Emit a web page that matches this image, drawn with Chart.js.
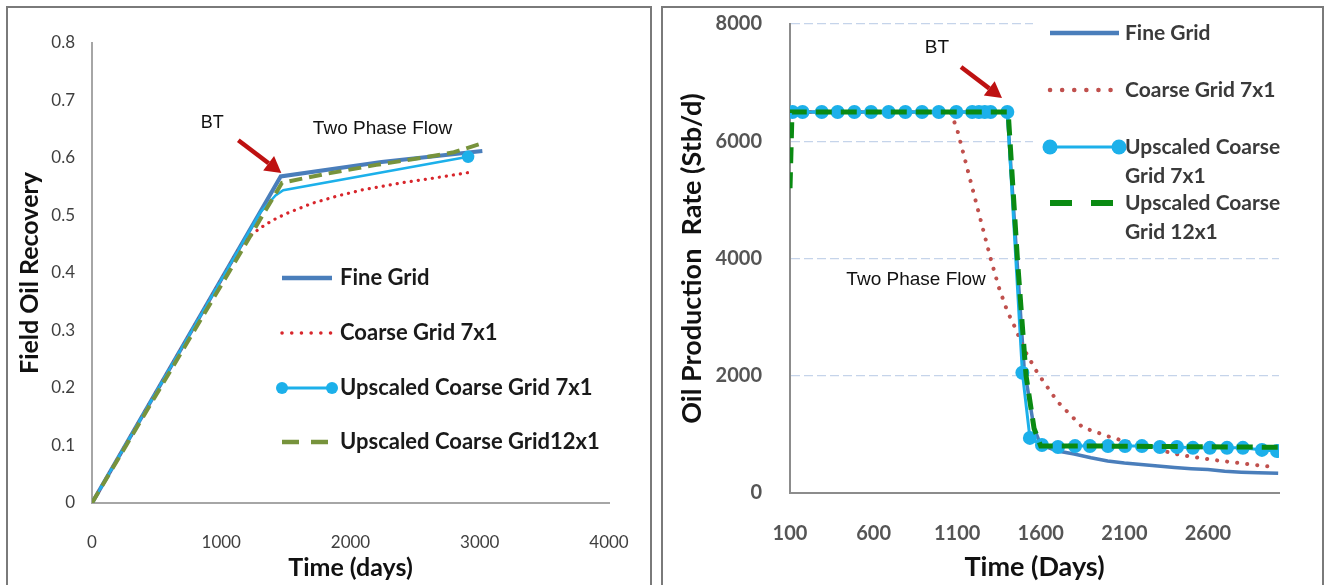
<!DOCTYPE html>
<html>
<head>
<meta charset="utf-8">
<script src="https://cdn.jsdelivr.net/npm/chart.js@4.4.1/dist/chart.umd.min.js"></script>
<style>
  html, body { margin: 0; padding: 0; background: #fff; }
  body { width: 1329px; height: 585px; position: relative; overflow: hidden; }
  .frame { position: absolute; top: 6px; height: 620px; border: 2px solid #7a7a7a; box-sizing: border-box; }
  #frameL { left: 6px; width: 646px; }
  #frameR { left: 661px; width: 663px; }
  .wrap { position: absolute; top: 0; height: 585px; }
  #wrapL { left: 0; width: 655px; }
  #wrapR { left: 655px; width: 674px; }
</style>
</head>
<body>
<div class="frame" id="frameL"></div>
<div class="frame" id="frameR"></div>
<div class="wrap" id="wrapL"><canvas id="recoveryChart" width="655" height="585"></canvas></div>
<div class="wrap" id="wrapR"><canvas id="rateChart" width="674" height="585"></canvas></div>
<script>
// ---- left panel: field oil recovery vs time (days)
const recDaysFine = [0, 1460, 2240, 3020];
const recFine = [0, 0.568, 0.593, 0.612];
const recDaysCoarse = [0, 1150, 1200, 1300, 1400, 1500, 1700, 1900, 2100, 2400, 2700, 2950];
const recCoarse = [0, 0.447, 0.46, 0.478, 0.492, 0.503, 0.521, 0.534, 0.545, 0.557, 0.567, 0.576];
const recDaysUp7 = [0, 1300, 1420, 1480, 2910];
const recUp7 = [0, 0.505, 0.535, 0.544, 0.602];
const recDaysUp12 = [0, 1470, 1800, 2200, 2600, 2800, 3010];
const recUp12 = [0, 0.557, 0.572, 0.588, 0.602, 0.61, 0.625];

// ---- right panel: oil production rate (Stb/d) vs time (days)
const rateDaysFine = [100, 1400, 1450, 1500, 1560, 1600, 1700, 1800, 1900, 2000, 2100, 2200, 2300, 2400, 2500, 2600, 2700, 2800, 2900, 3020];
const rateFine = [6500, 6500, 4300, 2150, 1100, 820, 716, 665, 600, 545, 510, 485, 460, 435, 415, 400, 370, 355, 345, 335];
const rateDaysCoarse = [100, 1060, 1100, 1150, 1200, 1250, 1300, 1350, 1400, 1450, 1500, 1580, 1700, 1850, 2030, 2230, 2430, 2630, 2830, 3000];
const rateCoarse = [6500, 6500, 6200, 5650, 5100, 4550, 4000, 3500, 3100, 2800, 2450, 2050, 1560, 1120, 940, 790, 650, 565, 495, 440];
const rateDaysUp7 = [115, 175, 290, 385, 485, 585, 690, 790, 890, 990, 1095, 1190, 1230, 1265, 1300, 1400,
                     1490, 1535, 1607, 1703, 1805, 1894, 2002, 2104, 2205, 2313, 2415, 2510, 2612, 2714, 2809, 2923, 3013];
const rateUp7 = [6500, 6500, 6500, 6500, 6500, 6500, 6500, 6500, 6500, 6500, 6500, 6500, 6500, 6500, 6500, 6500,
                 2050, 940, 820, 785, 800, 800, 800, 800, 800, 785, 785, 770, 770, 770, 770, 735, 716];
const rateDaysUp12 = [100, 112, 1405, 1460, 1512, 1560, 1600, 2000, 2500, 3020];
const rateUp12 = [5200, 6500, 6500, 4000, 2000, 1100, 800, 800, 790, 780];
const rateTickDays = [100, 600, 1100, 1600, 2100, 2600];

const seriesLabelsL = ['Fine Grid', 'Coarse Grid 7x1', 'Upscaled Coarse Grid 7x1', 'Upscaled Coarse Grid12x1'];
const seriesLabelsR = ['Fine Grid', 'Coarse Grid 7x1', 'Upscaled Coarse\nGrid 7x1', 'Upscaled Coarse\nGrid 12x1'];

const pairs = (xs, ys) => xs.map((x, i) => ({ x: x, y: ys[i] }));

const calibri = 'Lato, "Open Sans", sans-serif';
const arial = '"Liberation Sans", Arial, sans-serif';

// fixed axis box sizes, no extra label padding pushed into the layout
function fixBox(size) {
    return s => {
        if (s.isHorizontal()) s.height = size; else s.width = size;
        s.paddingTop = 0;
        s.paddingBottom = 0;
        s.paddingLeft = 0;
        s.paddingRight = 0;
    };
}

// legend drawn inside the plot, next to the curves
const boxLegend = {
    id: 'boxLegend',
    beforeDatasetsDraw(chart, args, opts) {
        if (!opts.cover) return;
        const c = opts.cover;
        chart.ctx.save();
        chart.ctx.fillStyle = '#ffffff';
        chart.ctx.fillRect(c[0], c[1], c[2], c[3]);
        chart.ctx.restore();
    },
    afterDraw(chart, args, opts) {
        const ctx = chart.ctx;
        ctx.save();
        ctx.font = opts.font;
        ctx.textBaseline = 'middle';
        ctx.textAlign = 'left';
        opts.items.forEach(item => {
            const ds = chart.data.datasets[item.index];
            ctx.save();
            ctx.strokeStyle = ds.borderColor;
            ctx.lineWidth = item.width;
            ctx.lineCap = item.cap || 'butt';
            ctx.setLineDash(item.dash || []);
            ctx.beginPath();
            ctx.moveTo(opts.x0, item.y);
            ctx.lineTo(opts.x1, item.y);
            ctx.stroke();
            if (item.marker) {
                ctx.fillStyle = ds.pointBackgroundColor;
                [opts.x0, opts.x1].forEach(mx => {
                    ctx.beginPath();
                    ctx.arc(mx, item.y, item.marker, 0, Math.PI * 2);
                    ctx.fill();
                });
            }
            ctx.restore();
            ctx.fillStyle = opts.color;
            ds.label.split('\n').forEach((line, i) => {
                ctx.fillText(line, opts.textX, item.y + i * opts.lineGap);
            });
        });
        ctx.restore();
    }
};

// BT arrow and "Two Phase Flow" notes, placed in data units
const notes = {
    id: 'notes',
    afterDraw(chart, args, opts) {
        const { ctx } = chart;
        const xs = chart.scales.x, ys = chart.scales.y;
        ctx.save();
        opts.labels.forEach(l => {
            ctx.font = l.font;
            ctx.fillStyle = '#111111';
            ctx.textAlign = 'center';
            ctx.textBaseline = 'middle';
            ctx.fillText(l.text, xs.getPixelForValue(l.at[0]), ys.getPixelForValue(l.at[1]));
        });
        opts.arrows.forEach(a => {
            const x0 = xs.getPixelForValue(a.from[0]), y0 = ys.getPixelForValue(a.from[1]);
            const x1 = xs.getPixelForValue(a.to[0]), y1 = ys.getPixelForValue(a.to[1]);
            const ang = Math.atan2(y1 - y0, x1 - x0);
            const head = 16, half = 9;
            const bx = x1 - head * Math.cos(ang), by = y1 - head * Math.sin(ang);
            ctx.strokeStyle = '#be1111';
            ctx.fillStyle = '#be1111';
            ctx.lineWidth = 4.5;
            ctx.beginPath();
            ctx.moveTo(x0, y0);
            ctx.lineTo(bx, by);
            ctx.stroke();
            ctx.beginPath();
            ctx.moveTo(x1, y1);
            ctx.lineTo(bx + half * Math.sin(ang), by - half * Math.cos(ang));
            ctx.lineTo(bx - half * Math.sin(ang), by + half * Math.cos(ang));
            ctx.closePath();
            ctx.fill();
        });
        ctx.restore();
    }
};

function buildRecoveryChart() {
    const ctx = document.getElementById('recoveryChart').getContext('2d');
    const up7Radius = recDaysUp7.map((d, i) => i === recDaysUp7.length - 1 ? 5 : 0);
    return new Chart(ctx, {
        type: 'line',
        data: {
            datasets: [
                {
                    label: seriesLabelsL[0],
                    data: pairs(recDaysFine, recFine),
                    borderColor: '#4a7ebb',
                    borderWidth: 4,
                    pointRadius: 0,
                    order: 3
                },
                {
                    label: seriesLabelsL[1],
                    data: pairs(recDaysCoarse, recCoarse),
                    borderColor: '#d8262c',
                    borderWidth: 3.2,
                    borderDash: [0.1, 7],
                    borderCapStyle: 'round',
                    pointRadius: 0,
                    order: 2
                },
                {
                    label: seriesLabelsL[2],
                    data: pairs(recDaysUp7, recUp7),
                    borderColor: '#1cb0ea',
                    borderWidth: 2.5,
                    pointRadius: up7Radius,
                    pointBackgroundColor: '#1cb0ea',
                    pointBorderColor: '#1cb0ea',
                    order: 1
                },
                {
                    label: seriesLabelsL[3],
                    data: pairs(recDaysUp12, recUp12),
                    borderColor: '#77933c',
                    borderWidth: 4,
                    borderDash: [13, 7],
                    pointRadius: 0,
                    order: 0
                }
            ]
        },
        options: {
            responsive: false,
            animation: false,
            events: [],
            layout: { padding: { top: 43, right: 46, left: 0, bottom: 0 } },
            scales: {
                x: {
                    type: 'linear',
                    min: 0,
                    max: 4000,
                    afterFit: fixBox(82),
                    grid: { display: false, drawTicks: false },
                    border: { display: true, color: '#a6a6a6', width: 2 },
                    ticks: {
                        stepSize: 1000,
                        padding: 29,
                        color: '#3f3f3f',
                        font: { family: calibri, size: 17 },
                        callback: v => String(v)
                    },
                    title: {
                        display: true,
                        text: 'Time (days)',
                        color: '#111111',
                        font: { family: calibri, size: 25, weight: 'bold' },
                        padding: { top: 0, bottom: 2 }
                    }
                },
                y: {
                    min: 0,
                    max: 0.8,
                    afterFit: fixBox(92),
                    grid: { display: false, drawTicks: false },
                    border: { display: true, color: '#a6a6a6', width: 2 },
                    ticks: {
                        stepSize: 0.1,
                        padding: 17,
                        color: '#3f3f3f',
                        font: { family: calibri, size: 17 },
                        callback: v => v === 0 ? '0' : v.toFixed(1)
                    },
                    title: {
                        display: true,
                        text: 'Field Oil Recovery',
                        color: '#111111',
                        font: { family: calibri, size: 25, weight: 'bold' },
                        padding: { top: 15, bottom: 0 }
                    }
                }
            },
            plugins: {
                legend: { display: false },
                tooltip: { enabled: false },
                boxLegend: {
                    x0: 282, x1: 332, textX: 340, lineGap: 0,
                    font: 'bold 22px ' + calibri,
                    color: '#1a1a1a',
                    items: [
                        { index: 0, y: 278, width: 4.5 },
                        { index: 1, y: 333, width: 3.5, dash: [0.1, 9.6], cap: 'round' },
                        { index: 2, y: 388, width: 3, marker: 6 },
                        { index: 3, y: 442, width: 4.5, dash: [17, 12] }
                    ]
                },
                notes: {
                    labels: [
                        { text: 'BT', at: [930, 0.661], font: '18px ' + arial },
                        { text: 'Two Phase Flow', at: [2248, 0.65], font: '19px ' + arial }
                    ],
                    arrows: [{ from: [1132, 0.631], to: [1465, 0.574] }]
                }
            }
        },
        plugins: [boxLegend, notes]
    });
}

function buildRateChart() {
    const ctx = document.getElementById('rateChart').getContext('2d');
    return new Chart(ctx, {
        type: 'line',
        data: {
            datasets: [
                {
                    label: seriesLabelsR[0],
                    data: pairs(rateDaysFine, rateFine),
                    borderColor: '#4a7ebb',
                    borderWidth: 3.5,
                    pointRadius: 0,
                    order: 3
                },
                {
                    label: seriesLabelsR[1],
                    data: pairs(rateDaysCoarse, rateCoarse),
                    borderColor: '#c0504d',
                    borderWidth: 4,
                    borderDash: [0.1, 10],
                    borderCapStyle: 'round',
                    pointRadius: 0,
                    order: 2
                },
                {
                    label: seriesLabelsR[2],
                    data: pairs(rateDaysUp7, rateUp7),
                    borderColor: '#1cb0ea',
                    borderWidth: 3,
                    pointRadius: 7,
                    pointBackgroundColor: '#1cb0ea',
                    pointBorderColor: '#1cb0ea',
                    pointBorderWidth: 0,
                    order: 1
                },
                {
                    label: seriesLabelsR[3],
                    data: pairs(rateDaysUp12, rateUp12),
                    borderColor: '#0a8a12',
                    borderWidth: 5,
                    borderDash: [16, 9],
                    pointRadius: 0,
                    order: 0
                }
            ]
        },
        options: {
            responsive: false,
            animation: false,
            events: [],
            layout: { padding: { top: 24, right: 50, left: 0, bottom: 0 } },
            scales: {
                x: {
                    type: 'linear',
                    min: 100,
                    max: 3025,
                    afterFit: fixBox(92),
                    afterBuildTicks: s => { s.ticks = rateTickDays.map(v => ({ value: v })); },
                    grid: { display: false, drawTicks: false },
                    border: { display: true, color: '#8c8c8c', width: 2 },
                    ticks: {
                        padding: 29,
                        color: '#555555',
                        font: { family: calibri, size: 20, weight: 'bold' },
                        callback: v => String(v)
                    },
                    title: {
                        display: true,
                        text: 'Time (Days)',
                        color: '#111111',
                        font: { family: calibri, size: 27, weight: 'bold' },
                        padding: { top: 0, bottom: 2 }
                    }
                },
                y: {
                    min: 0,
                    max: 8000,
                    afterFit: fixBox(135),
                    grid: {
                        drawTicks: false,
                        lineWidth: 1.3,
                        color: c => c.tick && c.tick.value === 0 ? 'rgba(0,0,0,0)' : '#c5d4ea'
                    },
                    border: { display: true, color: '#8c8c8c', width: 2, dash: [9, 4] },
                    ticks: {
                        stepSize: 2000,
                        padding: 28,
                        color: '#555555',
                        font: { family: calibri, size: 20, weight: 'bold' },
                        callback: v => String(v)
                    },
                    title: {
                        display: true,
                        text: 'Oil Production  Rate (Stb/d)',
                        color: '#111111',
                        font: { family: calibri, size: 27, weight: 'bold' },
                        padding: { top: 21, bottom: 0 }
                    }
                }
            },
            plugins: {
                legend: { display: false },
                tooltip: { enabled: false },
                boxLegend: {
                    cover: [378, 10, 250, 240],
                    x0: 395, x1: 464, textX: 470, lineGap: 29,
                    font: 'bold 21px ' + calibri,
                    color: '#3a3a3a',
                    items: [
                        { index: 0, y: 33, width: 4.5 },
                        { index: 1, y: 90, width: 4.5, dash: [0.1, 12], cap: 'round' },
                        { index: 2, y: 147, width: 3, marker: 7.5 },
                        { index: 3, y: 203, width: 6, dash: [22, 19] }
                    ]
                },
                notes: {
                    labels: [
                        { text: 'BT', at: [979, 7590], font: '19px ' + arial },
                        { text: 'Two Phase Flow', at: [854, 3633], font: '19px ' + arial }
                    ],
                    arrows: [{ from: [1123, 7266], to: [1368, 6738] }]
                }
            }
        },
        plugins: [boxLegend, notes]
    });
}

function buildAll() {
    buildRecoveryChart();
    buildRateChart();
}

if (document.fonts && document.fonts.load) {
    Promise.all([
        document.fonts.load('bold 22px Lato'),
        document.fonts.load('16px Lato'),
        document.fonts.load('19px "Liberation Sans"')
    ]).then(buildAll, buildAll);
} else {
    buildAll();
}
</script>
</body>
</html>
